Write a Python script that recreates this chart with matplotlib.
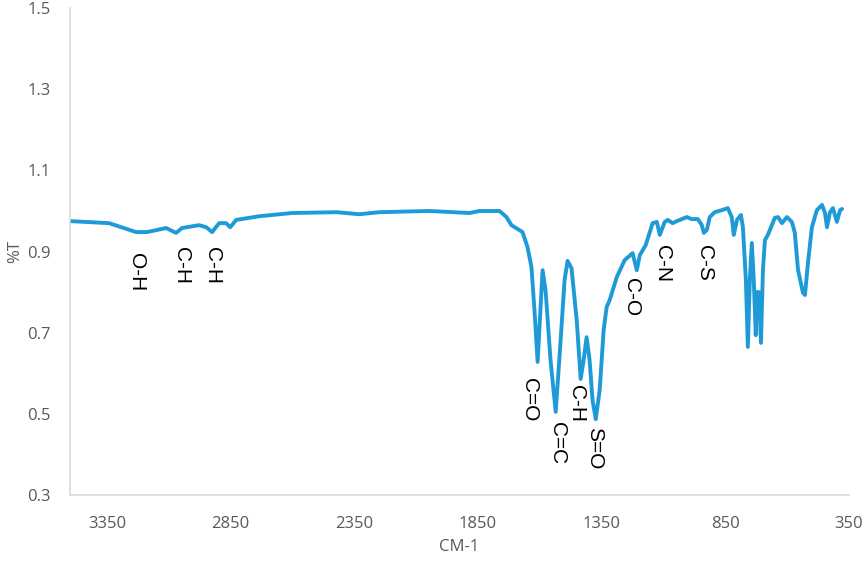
import matplotlib
matplotlib.use("Agg")
import matplotlib.pyplot as plt

# FTIR spectrum
wavenumber = [3500, 3342, 3233, 3188, 3111, 3071, 3047, 2978, 2949, 2925,
              2897, 2869, 2852, 2828, 2735, 2601, 2423, 2330, 2249, 2047,
              1885, 1844, 1763, 1735, 1715, 1670, 1650, 1634, 1621, 1609,
              1589, 1577, 1557, 1536, 1516, 1500, 1488, 1472, 1451, 1435,
              1423, 1411, 1399, 1387, 1374, 1358, 1342, 1330, 1318, 1289,
              1257, 1225, 1208, 1196, 1172, 1144, 1127, 1115, 1095, 1083,
              1063, 1046, 1006, 986, 961, 945, 937, 925, 913, 893,
              864, 840, 824, 816, 803, 787, 779, 767, 759, 751,
              743, 735, 727, 723, 714, 706, 698, 690, 678, 650,
              637, 621, 601, 581, 569, 556, 536, 528, 516, 500,
              480, 459, 447, 439, 427, 415, 399, 386, 378]
transmittance = [0.975, 0.970, 0.948, 0.948, 0.958, 0.946, 0.958, 0.965, 0.960, 0.948,
                 0.970, 0.970, 0.960, 0.978, 0.987, 0.995, 0.997, 0.992, 0.997, 1.000,
                 0.995, 1.000, 1.000, 0.985, 0.965, 0.948, 0.911, 0.862, 0.748, 0.628,
                 0.854, 0.805, 0.633, 0.505, 0.682, 0.830, 0.877, 0.859, 0.731, 0.586,
                 0.633, 0.689, 0.633, 0.534, 0.487, 0.559, 0.707, 0.763, 0.780, 0.837,
                 0.879, 0.896, 0.854, 0.891, 0.916, 0.970, 0.973, 0.941, 0.973, 0.978,
                 0.970, 0.975, 0.985, 0.980, 0.980, 0.965, 0.946, 0.953, 0.985, 0.997,
                 1.002, 1.007, 0.985, 0.941, 0.978, 0.990, 0.960, 0.830, 0.665, 0.830,
                 0.921, 0.830, 0.694, 0.800, 0.800, 0.675, 0.854, 0.928, 0.941, 0.983,
                 0.985, 0.970, 0.985, 0.973, 0.946, 0.854, 0.798, 0.793, 0.872, 0.960,
                 1.002, 1.015, 0.995, 0.960, 0.997, 1.007, 0.973, 1.002, 1.005]

# band labels: text, wavenumber of label, top of label (%T)
band_labels = ["O-H", "C-H", "C-H", "C=O", "C=C", "C-H", "S=O", "C-O", "C-N", "C-S"]
band_x = [3229, 3051, 2925, 1642, 1528, 1451, 1378, 1229, 1103, 933]
band_y = [0.896, 0.911, 0.911, 0.588, 0.480, 0.571, 0.468, 0.835, 0.916, 0.916]

x_ticks = [3350, 2850, 2350, 1850, 1350, 850, 350]
y_ticks = [0.3, 0.5, 0.7, 0.9, 1.1, 1.3, 1.5]

grey = "#595959"

fig = plt.figure(figsize=(8.65, 5.61), dpi=100)
ax = fig.add_axes([0.0809, 0.1176, 0.9006, 0.868])

ax.plot(wavenumber, transmittance, color="#1e9bd7", linewidth=2.8,
        solid_joinstyle="round", solid_capstyle="round")

for label, bx, by in zip(band_labels, band_x, band_y):
    ax.text(bx, by, label, rotation=270, ha="center", va="top",
            fontsize=15, family="Liberation Sans", color="black")

ax.set_xlim(3500, 350)
ax.set_ylim(0.3, 1.5)
ax.set_xticks(x_ticks)
ax.set_yticks(y_ticks)
ax.set_xticklabels([str(t) for t in x_ticks])
ax.set_yticklabels([f"{t:.1f}" for t in y_ticks])
ax.tick_params(length=0, labelsize=12, colors=grey, pad=14)
ax.tick_params(axis="x", pad=15)
for lab in ax.get_xticklabels() + ax.get_yticklabels():
    lab.set_family("Open Sans")

for side in ["top", "right"]:
    ax.spines[side].set_visible(False)
for side in ["left", "bottom"]:
    ax.spines[side].set_color("#d9d9d9")
    ax.spines[side].set_linewidth(1.2)

ax.set_xlabel("CM-1", fontsize=12, color=grey, family="Open Sans", labelpad=5)
ax.set_ylabel("%T", fontsize=12, color=grey, family="Open Sans", labelpad=3)

fig.savefig("out.png", dpi=100)
